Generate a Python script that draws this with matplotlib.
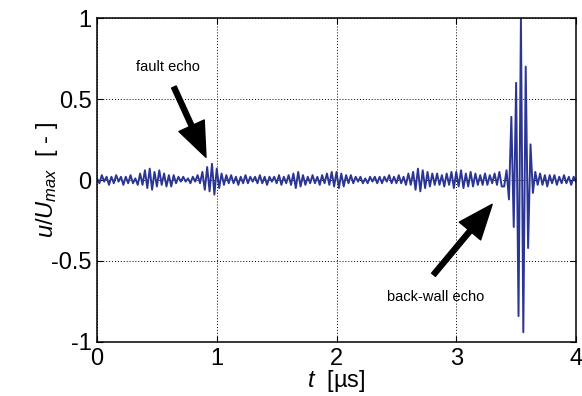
import numpy as np
import matplotlib
matplotlib.use('Agg')
import matplotlib.pyplot as plt

# --- Dados (extremos do sinal, passo de 0.02 us) ---
T_INICIO = 0.0
T_FIM = 4.0

u_norm = [
    0.01, -0.02, 0.03, -0.01, 0.02, -0.03, 0.02, -0.02, 0.03, -0.01,
    0.02, -0.03, 0.02, -0.02, 0.03, -0.02, 0.01, -0.03, 0.04, -0.03,
    0.06, -0.05, 0.07, -0.06, 0.05, -0.04, 0.06, -0.03, 0.04, -0.04,
    0.03, -0.04, 0.03, -0.02, 0.02, -0.01, 0.02, -0.01, 0.01, -0.02,
    0.02, -0.01, 0.03, -0.02, 0.05, -0.06, 0.08, -0.07, 0.10, -0.09,
    0.07, -0.05, 0.04, -0.03, 0.03, -0.02, 0.03, -0.02, 0.02, -0.03,
    0.02, -0.02, 0.03, -0.02, 0.02, -0.01, 0.02, -0.02, 0.03, -0.02,
    0.02, -0.03, 0.02, -0.01, 0.02, -0.02, 0.03, -0.03, 0.02, -0.02,
    0.03, -0.03, 0.04, -0.05, 0.05, -0.04, 0.03, -0.03, 0.02, -0.02,
    0.03, -0.02, 0.02, -0.03, 0.03, -0.02, 0.04, -0.03, 0.05, -0.04,
    0.05, -0.05, 0.04, -0.04, 0.03, -0.02, 0.03, -0.02, 0.02, -0.01,
    0.02, -0.02, 0.01, -0.02, 0.02, -0.01, 0.02, -0.02, 0.02, -0.02,
    0.02, -0.01, 0.03, -0.02, 0.02, -0.02, 0.03, -0.02, 0.02, -0.03,
    0.04, -0.03, 0.05, -0.06, 0.07, -0.07, 0.06, -0.05, 0.05, -0.04,
    0.04, -0.03, 0.04, -0.03, 0.03, -0.04, 0.04, -0.03, 0.05, -0.05,
    0.05, -0.04, 0.06, -0.05, 0.04, -0.04, 0.05, -0.04, 0.04, -0.03,
    0.03, -0.03, 0.04, -0.03, 0.03, -0.02, 0.04, -0.03, 0.05, -0.04,
    -0.04, 0.06, -0.12, 0.39, -0.29, 0.60, -0.84, 1.00, -0.94, 0.70,
    -0.42, 0.22, -0.08, 0.05, -0.03, 0.04, -0.03, 0.03, -0.04, 0.03,
    -0.02, 0.03, -0.03, 0.02, -0.02, 0.03, -0.02, 0.02, -0.03, 0.02,
    -0.01,
]
t_us = np.linspace(T_INICIO, T_FIM, len(u_norm))

x_ticks = [0, 1, 2, 3, 4]
y_ticks = [-1, -0.5, 0, 0.5, 1]
y_tick_labels = ['-1', '-0.5', '0', '0.5', '1']

# anotações: (texto, posição do texto, cauda da seta, ponta da seta)
nota_falha = ('fault echo', (0.59, 0.70), (0.642, 0.574), (0.91, 0.14))
nota_fundo = ('back-wall echo', (2.83, -0.72), (2.81, -0.585), (3.30, -0.15))

# --- Estilo ---
plt.rcParams['font.family'] = ['Liberation Sans', 'DejaVu Sans']
plt.rcParams['mathtext.fontset'] = 'custom'
plt.rcParams['mathtext.rm'] = 'Liberation Sans'
plt.rcParams['mathtext.it'] = 'Liberation Sans:italic'

fig = plt.figure(figsize=(5.82, 3.96), dpi=100)
ax = fig.add_axes([0.1667, 0.1364, 0.8230, 0.8181])

ax.plot(t_us, u_norm, color='#2b3594', lw=1.4)

ax.set_xlim(0, 4)
ax.set_ylim(-1, 1)
ax.set_xticks(x_ticks)
ax.set_yticks(y_ticks)
ax.set_yticklabels(y_tick_labels)
ax.tick_params(direction='in', length=4, width=0.8, labelsize=17,
               top=True, right=True, pad=4)
ax.grid(True, color='k', linestyle=(0, (1, 2)), linewidth=0.7)
for s in ax.spines.values():
    s.set_linewidth(1.1)

ax.set_xlabel(r'$\mathit{t}$  [µs]', fontsize=17, labelpad=-1)
ax.set_ylabel(r'$\mathit{u/U_{max}}$  [ - ]', fontsize=17)
ax.yaxis.set_label_coords(-0.077, 0.5)

for texto, pos_txt, cauda, ponta in (nota_falha, nota_fundo):
    ax.text(pos_txt[0], pos_txt[1], texto, fontsize=10.5, ha='center', va='center')
    ax.annotate('', xy=ponta, xytext=cauda,
                arrowprops=dict(width=3.6, headwidth=20, headlength=25,
                                color='k', shrink=0))

fig.savefig('out.png', dpi=100)
